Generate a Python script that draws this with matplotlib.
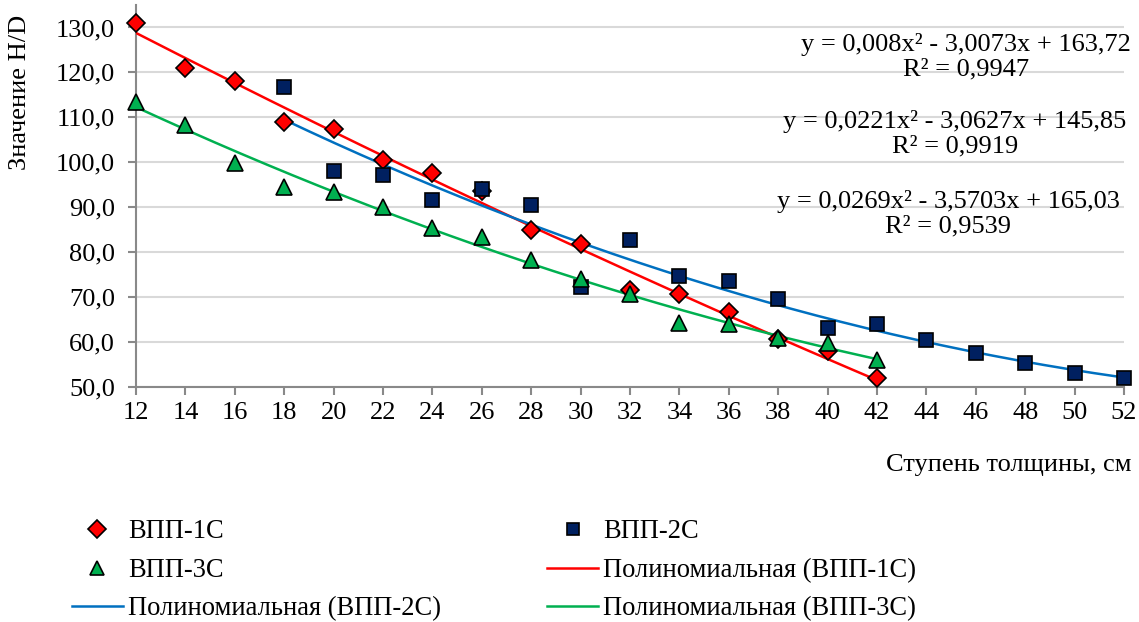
import numpy as np
import matplotlib
matplotlib.use("Agg")
import matplotlib.pyplot as plt
from matplotlib.ticker import FuncFormatter, MultipleLocator
from matplotlib.lines import Line2D

plt.rcParams['font.family'] = ['Liberation Serif', 'DejaVu Serif']
FS = 19
FS_LEG = 19.1

# Ступени толщины (см) и значения H/D по участкам
x_1c = [12, 14, 16, 18, 20, 22, 24, 26, 28, 30, 32, 34, 36, 38, 40, 42]
y_1c = [131.1, 121.0, 118.1, 109.0, 107.5, 100.5, 97.7, 93.7, 85.0, 81.8,
        71.6, 70.7, 66.6, 60.6, 58.0, 52.0]

x_2c = [18, 20, 22, 24, 26, 28, 30, 32, 34, 36, 38, 40, 42, 44, 46, 48, 50, 52]
y_2c = [116.7, 98.1, 97.2, 91.6, 94.1, 90.6, 72.3, 82.8, 74.6, 73.6,
        69.6, 63.2, 64.1, 60.4, 57.6, 55.3, 53.1, 52.1]

x_3c = [12, 14, 16, 18, 20, 22, 24, 26, 28, 30, 32, 34, 36, 38, 40, 42]
y_3c = [113.5, 108.4, 99.8, 94.6, 93.3, 90.0, 85.4, 83.3, 78.2, 74.1,
        70.6, 64.3, 64.0, 60.9, 59.8, 55.9]

# Коэффициенты полиномиальных трендов (a, b, c) и R²
coef_1c = (0.008, -3.0073, 163.72)
coef_2c = (0.0269, -3.5703, 165.03)
coef_3c = (0.0221, -3.0627, 145.85)
r2_1c, r2_2c, r2_3c = 0.9947, 0.9539, 0.9919

labels = ["ВПП-1С", "ВПП-2С", "ВПП-3С"]
trend_labels = ["Полиномиальная (ВПП-1С)", "Полиномиальная (ВПП-2С)",
                "Полиномиальная (ВПП-3С)"]

RED, NAVY, GREEN, BLUE = "#FF0000", "#002060", "#00B050", "#0070C0"

W, H = 1139, 622
fig = plt.figure(figsize=(W / 100, H / 100), dpi=100)
ax = fig.add_axes([136 / W, 1 - 387 / H, (1124 - 136) / W, (387 - 5) / H])


def poly(coef, xs):
    a, b, c = coef
    xs = np.asarray(xs, dtype=float)
    return a * xs ** 2 + b * xs + c


def curve(coef, xs):
    xx = np.linspace(min(xs), max(xs), 200)
    return xx, poly(coef, xx)


# линии трендов
for coef, xs, col in [(coef_1c, x_1c, RED), (coef_2c, x_2c, BLUE), (coef_3c, x_3c, GREEN)]:
    xx, yy = curve(coef, xs)
    ax.plot(xx, yy, color=col, lw=1.8, zorder=3)

# точки
ax.plot(x_1c, y_1c, ls="none", marker="D", ms=9.5, mfc=RED, mec="black", mew=1.2,
        zorder=4, clip_on=False)
ax.plot(x_2c, y_2c, ls="none", marker="s", ms=9.5, mfc=NAVY, mec="black", mew=1.2,
        zorder=5, clip_on=False)
ax.plot(x_3c, y_3c, ls="none", marker="^", ms=11, mfc=GREEN, mec="black", mew=1.2,
        zorder=6, clip_on=False)

ax.set_xlim(12, 52)
ax.set_ylim(50, 135)
ax.xaxis.set_major_locator(MultipleLocator(2))
ax.yaxis.set_major_locator(MultipleLocator(10))
ax.yaxis.set_major_formatter(FuncFormatter(lambda v, p: f"{v:.1f}".replace(".", ",")))
ax.xaxis.set_major_formatter(FuncFormatter(lambda v, p: f"{v:.0f}"))

ax.grid(axis="y", color="#D9D9D9", lw=1.5)
ax.set_axisbelow(True)
for s in ("top", "right"):
    ax.spines[s].set_visible(False)
for s in ("left", "bottom"):
    ax.spines[s].set_color("#898989")
    ax.spines[s].set_linewidth(1.5)
ax.tick_params(axis="both", direction="out", length=6, width=1.5, color="#898989",
               labelsize=FS, labelcolor="black")
ax.tick_params(axis="y", pad=9)
ax.tick_params(axis="x", pad=5)

fig.text(20 / W, 1 - 92 / H, "Значение H/D", rotation=90, ha="center", va="center",
         fontsize=FS)
fig.text(1131 / W, 1 - 465 / H, "Ступень толщины, см", ha="right", va="center",
         fontsize=FS)


def fmt(v, nd):
    return f"{v:.{nd}f}".replace(".", ",")


def eq_text(coef, r2, nd_a):
    a, b, c = coef
    return (f"y = {fmt(a, nd_a)}x² - {fmt(-b, 4)}x + {fmt(c, 2)}\n"
            f"R² = {fmt(r2, 4)}")


fig.text(966 / W, 1 - 57 / H, eq_text(coef_1c, r2_1c, 3), ha="center", va="center",
         fontsize=FS, linespacing=1.12)
fig.text(955 / W, 1 - 134 / H, eq_text(coef_3c, r2_3c, 4), ha="center", va="center",
         fontsize=FS, linespacing=1.12)
fig.text(948 / W, 1 - 214 / H, eq_text(coef_2c, r2_2c, 4), ha="center", va="center",
         fontsize=FS, linespacing=1.12)

# легенда
h1 = Line2D([], [], ls="none", marker="D", ms=9, mfc=RED, mec="black", mew=1.2)
h2 = Line2D([], [], ls="none", marker="s", ms=9, mfc=NAVY, mec="black", mew=1.2)
h3 = Line2D([], [], ls="none", marker="^", ms=10, mfc=GREEN, mec="black", mew=1.2)
t1 = Line2D([], [], color=RED, lw=1.8)
t2 = Line2D([], [], color=BLUE, lw=1.8)
t3 = Line2D([], [], color=GREEN, lw=1.8)
handles = [h1, h3, t2, h2, t1, t3]
leg_labels = [labels[0], labels[2], trend_labels[1], labels[1], trend_labels[0], trend_labels[2]]
fig.legend(handles, leg_labels, ncol=2, loc="upper left",
           bbox_to_anchor=(72 / W, 1 - 519 / H), frameon=False, fontsize=FS_LEG,
           borderpad=0, borderaxespad=0, handlelength=1.92, handletextpad=0.19,
           labelspacing=0.52, columnspacing=4.0)

fig.savefig("out.png", dpi=100)
